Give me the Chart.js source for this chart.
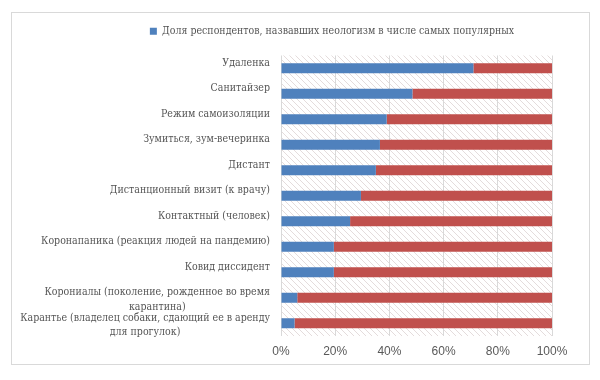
<!DOCTYPE html>
<html>
<head>
<meta charset="utf-8">
<script src="https://cdn.jsdelivr.net/npm/chart.js@4/dist/chart.umd.min.js"></script>
<style>
html,body{margin:0;padding:0;background:#fff;}
#wrap{width:600px;height:380px;position:relative;}
</style>
</head>
<body>
<div id="wrap"><canvas id="c" width="600" height="380"></canvas></div>
<script>
const categories = [
  "Удаленка",
  "Санитайзер",
  "Режим самоизоляции",
  "Зумиться, зум-вечеринка",
  "Дистант",
  "Дистанционный визит (к врачу)",
  "Контактный (человек)",
  "Коронапаника (реакция людей на пандемию)",
  "Ковид диссидент",
  ["Корониалы (поколение, рожденное во время", "карантина)"],
  ["Карантье (владелец собаки, сдающий ее в аренду", "для прогулок)"]
];
const shareValues = [71, 48.5, 39, 36.5, 35, 29.5, 25.5, 19.5, 19.5, 6, 5];
const restValues = [29, 51.5, 61, 63.5, 65, 70.5, 74.5, 80.5, 80.5, 94, 95];
const xTicks = [0, 20, 40, 60, 80, 100];
const seriesName = "Доля респондентов, назвавших неологизм в числе самых популярных";

const SERIF = "'DejaVu Serif Condensed', 'DejaVu Serif', serif";
const LABEL_SIZE = 10.5;
const SANS = "'Liberation Sans', 'DejaVu Sans', sans-serif";

function makeHatch() {
  const c = document.createElement('canvas');
  c.width = 6; c.height = 6;
  const g = c.getContext('2d');
  g.strokeStyle = '#e4dcdc';
  g.lineWidth = 1;
  g.beginPath();
  g.moveTo(-1, -1); g.lineTo(7, 7);
  g.moveTo(-1, 5); g.lineTo(1, 7);
  g.moveTo(5, -1); g.lineTo(7, 1);
  g.stroke();
  return c;
}

const framePlugin = {
  id: 'frame',
  beforeLayout(chart) {
    const lg = chart.legend;
    if (lg && !lg._patched) {
      const orig = lg.fit;
      lg.fit = function () { orig.call(this); this.height += 9; };
      lg._patched = true;
    }
  },
  beforeDraw(chart) {
    const ctx = chart.ctx;
    ctx.save();
    ctx.fillStyle = '#ffffff';
    ctx.fillRect(0, 0, chart.width, chart.height);
    ctx.strokeStyle = '#d9d9d9';
    ctx.lineWidth = 1;
    ctx.strokeRect(11.5, 12.5, 578, 352);
    const a = chart.chartArea;
    ctx.fillStyle = ctx.createPattern(makeHatch(), 'repeat');
    ctx.fillRect(a.left, a.top, a.right - a.left, a.bottom - a.top);
    ctx.restore();
  },
  afterLayout(chart) {
    if (chart.legend) {
      chart.legend.left += 56;
      chart.legend.right += 56;
    }
  },
  afterDraw(chart) {
    const ctx = chart.ctx;
    const ys = chart.scales.y;
    ctx.save();
    ctx.font = LABEL_SIZE + 'px ' + SERIF;
    ctx.fillStyle = '#555555';
    ctx.textAlign = 'center';
    ctx.textBaseline = 'middle';
    const rightEdge = chart.chartArea.left - 11;
    categories.forEach((lab, i) => {
      const lines = Array.isArray(lab) ? lab : [lab];
      let maxW = 0;
      lines.forEach(l => { maxW = Math.max(maxW, ctx.measureText(l).width); });
      const y = ys.getPixelForValue(i);
      lines.forEach((l, j) => {
        ctx.fillText(l, rightEdge - maxW / 2, y - 5 + j * 14.5);
      });
    });
    ctx.restore();
  }
};

new Chart(document.getElementById('c'), {
  type: 'bar',
  data: {
    labels: categories,
    datasets: [
      { label: seriesName, data: shareValues, backgroundColor: '#4f81bd', borderWidth: 0,
        barPercentage: 0.4, categoryPercentage: 1 },
      { label: 'rest', data: restValues, backgroundColor: '#c0504d', borderWidth: 0,
        barPercentage: 0.4, categoryPercentage: 1 }
    ]
  },
  options: {
    indexAxis: 'y',
    responsive: false,
    animation: false,
    devicePixelRatio: 1,
    layout: { padding: { top: 16, left: 0, right: 48, bottom: 0 } },
    plugins: {
      legend: {
        position: 'top',
        labels: {
          filter: (item) => item.datasetIndex === 0,
          boxWidth: 7, boxHeight: 7,
          padding: 10,
          color: '#555555',
          font: { family: SERIF, size: LABEL_SIZE }
        }
      },
      tooltip: { enabled: false }
    },
    scales: {
      x: {
        stacked: true,
        min: 0, max: 100,
        afterBuildTicks(scale) { scale.ticks = xTicks.map(v => ({ value: v })); },
        ticks: {
          callback: v => v + '%',
          color: '#595959',
          font: { family: SANS, size: 12 },
          padding: 8
        },
        grid: { color: '#d9d9d9', drawTicks: false },
        border: { display: false },
        afterFit(scale) { scale.height = 44; }
      },
      y: {
        stacked: true,
        ticks: { color: 'rgba(0,0,0,0)', font: { family: SERIF, size: LABEL_SIZE } },
        grid: { display: false },
        border: { display: false },
        afterFit(scale) { scale.width = 281; }
      }
    }
  },
  plugins: [framePlugin]
});
</script>
</body>
</html>
